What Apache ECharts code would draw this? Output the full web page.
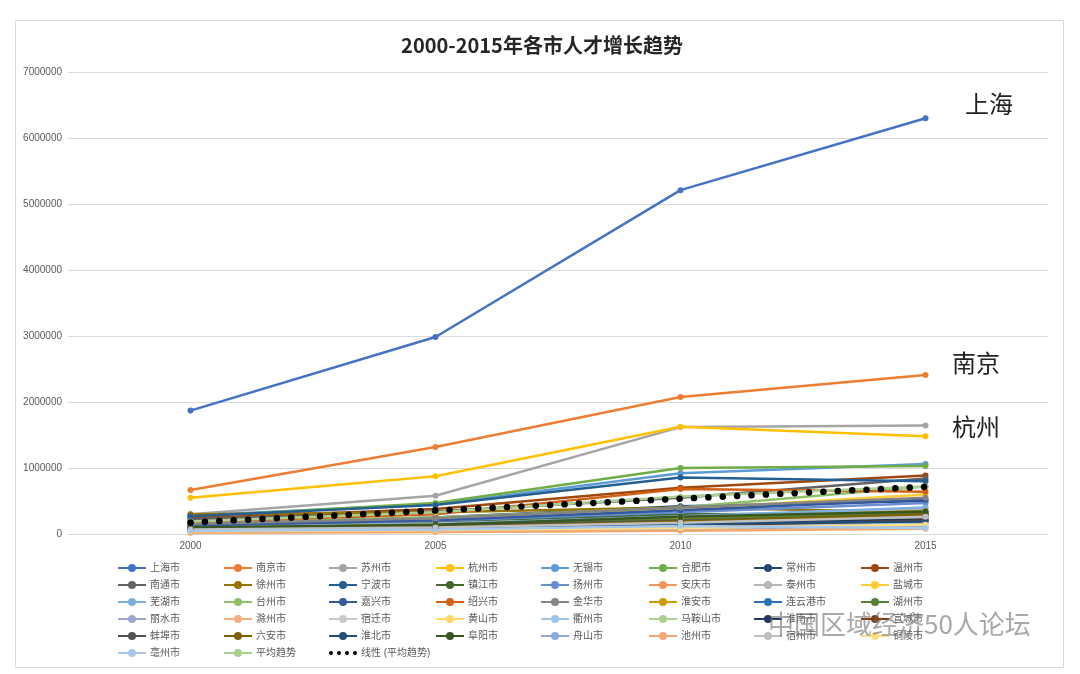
<!DOCTYPE html>
<html>
<head>
<meta charset="utf-8">
<script src="https://cdn.jsdelivr.net/npm/echarts@6/dist/echarts.min.js"></script>
<style>html,body{margin:0;padding:0;background:#fff;}#c{width:1080px;height:674px;}</style>
</head>
<body>
<div id="c"></div>
<script>
const years = ['2000', '2005', '2010', '2015'];
const yTicks = { min: 0, max: 7000000, interval: 1000000 };

const cityNames = [
  '上海市','南京市','苏州市','杭州市','无锡市','合肥市','常州市','温州市',
  '南通市','徐州市','宁波市','镇江市','扬州市','安庆市','泰州市','盐城市',
  '芜湖市','台州市','嘉兴市','绍兴市','金华市','淮安市','连云港市','湖州市',
  '丽水市','滁州市','宿迁市','黄山市','衢州市','马鞍山市','淮南市','宣城市',
  '蚌埠市','六安市','淮北市','阜阳市','舟山市','池州市','宿州市','铜陵市',
  '亳州市','平均趋势'
];
const cityValues = [
  [1870000, 2985000, 5210000, 6300000],
  [667000, 1318000, 2076000, 2410000],
  [300000, 580000, 1620000, 1645000],
  [550000, 875000, 1625000, 1480000],
  [280000, 450000, 920000, 1060000],
  [260000, 470000, 1000000, 1030000],
  [150000, 250000, 420000, 500000],
  [240000, 380000, 700000, 885000],
  [220000, 340000, 550000, 840000],
  [300000, 330000, 400000, 330000],
  [270000, 440000, 855000, 800000],
  [120000, 180000, 300000, 310000],
  [130000, 200000, 330000, 470000],
  [80000, 120000, 200000, 300000],
  [100000, 160000, 250000, 380000],
  [140000, 220000, 380000, 600000],
  [90000, 150000, 270000, 400000],
  [160000, 250000, 400000, 720000],
  [130000, 210000, 360000, 520000],
  [180000, 300000, 680000, 640000],
  [150000, 240000, 400000, 550000],
  [90000, 140000, 240000, 350000],
  [70000, 110000, 190000, 260000],
  [80000, 130000, 220000, 320000],
  [40000, 60000, 110000, 170000],
  [60000, 90000, 160000, 240000],
  [50000, 80000, 140000, 210000],
  [20000, 30000, 60000, 100000],
  [40000, 70000, 120000, 180000],
  [60000, 100000, 170000, 250000],
  [90000, 120000, 180000, 220000],
  [50000, 80000, 130000, 200000],
  [80000, 120000, 200000, 280000],
  [70000, 100000, 190000, 300000],
  [60000, 90000, 150000, 190000],
  [100000, 140000, 260000, 340000],
  [30000, 50000, 80000, 120000],
  [20000, 30000, 50000, 80000],
  [70000, 100000, 170000, 260000],
  [40000, 60000, 90000, 140000],
  [50000, 70000, 120000, 90000],
  [190000, 330000, 570000, 720000]
];
const trendName = '线性 (平均趋势)';
const trendValues = [175000, 355000, 535000, 715000];

const palette = [
  '#4472C4','#ED7D31','#A5A5A5','#FFC000','#5B9BD5','#70AD47','#264478','#9E480E',
  '#636363','#997300','#255E91','#43682B','#698ED0','#F1975A','#B7B7B7','#FFCD33',
  '#7CAFDD','#8CC168','#335AA1','#D26012','#848484','#CC9A00','#2E75B6','#548235',
  '#9DA5D2','#F4B183','#C9C9C9','#FFD966','#9DC3E6','#A9D18E','#203864','#843C0C',
  '#525252','#7F6000','#1F4E79','#385723','#8EA9DB','#F4A773','#BFBFBF','#FFE083',
  '#A7C8E8','#A9D18E'
];

const series = cityNames.map((n, i) => ({
  name: n, type: 'line', data: cityValues[i],
  symbol: 'circle', symbolSize: 6, z: 2,
  itemStyle: { color: palette[i] },
  lineStyle: { color: palette[i], width: 2.5 },
  emphasis: { disabled: true }, animation: false
}));
series.push({
  name: trendName, type: 'line', data: trendValues, symbol: 'none', z: 5,
  itemStyle: { color: '#000' },
  lineStyle: { color: '#000', width: 6.5, type: [0.1, 14.3], cap: 'round' },
  emphasis: { disabled: true }, animation: false
});

const dotsIcon = 'path://M0,2a2,2 0 1,0 4,0a2,2 0 1,0 -4,0Z M8,2a2,2 0 1,0 4,0a2,2 0 1,0 -4,0Z M16,2a2,2 0 1,0 4,0a2,2 0 1,0 -4,0Z M24,2a2,2 0 1,0 4,0a2,2 0 1,0 -4,0Z';
const allNames = cityNames.concat([trendName]);
const colX = [117, 223, 328, 435, 540, 648, 753, 860];
const legends = colX.map((x, c) => ({
  orient: 'vertical', left: x, top: 562,
  itemWidth: 28, itemHeight: 10, itemGap: 5,
  padding: 0,
  textStyle: { fontSize: 10, color: '#595959', lineHeight: 12, padding: [0, 0, 0, -1] },
  data: allNames.filter((_, i) => i % 8 === c).map(n => n === trendName
    ? { name: n, icon: dotsIcon, itemStyle: { color: '#000' } } : n),
  selectedMode: false
}));
legends[2].data = legends[2].data.map(d => d);

const chart = echarts.init(document.getElementById('c'), null, { renderer: 'canvas' });
chart.setOption({
  animation: false,
  textStyle: { fontFamily: '"Liberation Sans", "Noto Sans CJK SC", sans-serif' },
  title: {
    text: '2000-2015年各市人才增长趋势', left: 537, top: 30, textAlign: 'center',
    textStyle: { fontSize: 20, fontWeight: 'bold', color: '#262626', fontFamily: '"Noto Sans CJK SC", sans-serif' }
  },
  grid: { left: 68, right: 32, top: 72, bottom: 140, containLabel: false },
  xAxis: {
    type: 'category', data: years, boundaryGap: true,
    axisTick: { show: false },
    axisLine: { lineStyle: { color: '#d9d9d9', width: 1 } },
    axisLabel: { color: '#595959', fontSize: 10, margin: 7 }
  },
  yAxis: {
    type: 'value', min: yTicks.min, max: yTicks.max, interval: yTicks.interval,
    axisLine: { show: false }, axisTick: { show: false },
    axisLabel: { color: '#595959', fontSize: 10, margin: 6, formatter: v => String(v) },
    splitLine: { lineStyle: { color: '#d9d9d9', width: 1 } }
  },
  legend: legends,
  series: series,
  graphic: [
    { type: 'rect', shape: { x: 15.5, y: 20.5, width: 1048, height: 647 }, style: { fill: null, stroke: '#d9d9d9', lineWidth: 1 }, z: -1, silent: true },
    { type: 'text', left: 965, top: 92, style: { text: '上海', fontSize: 24, fill: '#222', fontFamily: '"Noto Sans CJK SC", sans-serif' } },
    { type: 'text', left: 952, top: 351, style: { text: '南京', fontSize: 24, fill: '#222', fontFamily: '"Noto Sans CJK SC", sans-serif' } },
    { type: 'text', left: 952, top: 415, style: { text: '杭州', fontSize: 24, fill: '#222', fontFamily: '"Noto Sans CJK SC", sans-serif' } },
    { type: 'text', left: 768, top: 611, z: 100, style: { text: '中国区域经济50人论坛', fontSize: 26, fill: 'rgba(110,110,110,0.6)', fontFamily: '"Noto Sans CJK SC", sans-serif' } }
  ]
});
</script>
</body>
</html>
